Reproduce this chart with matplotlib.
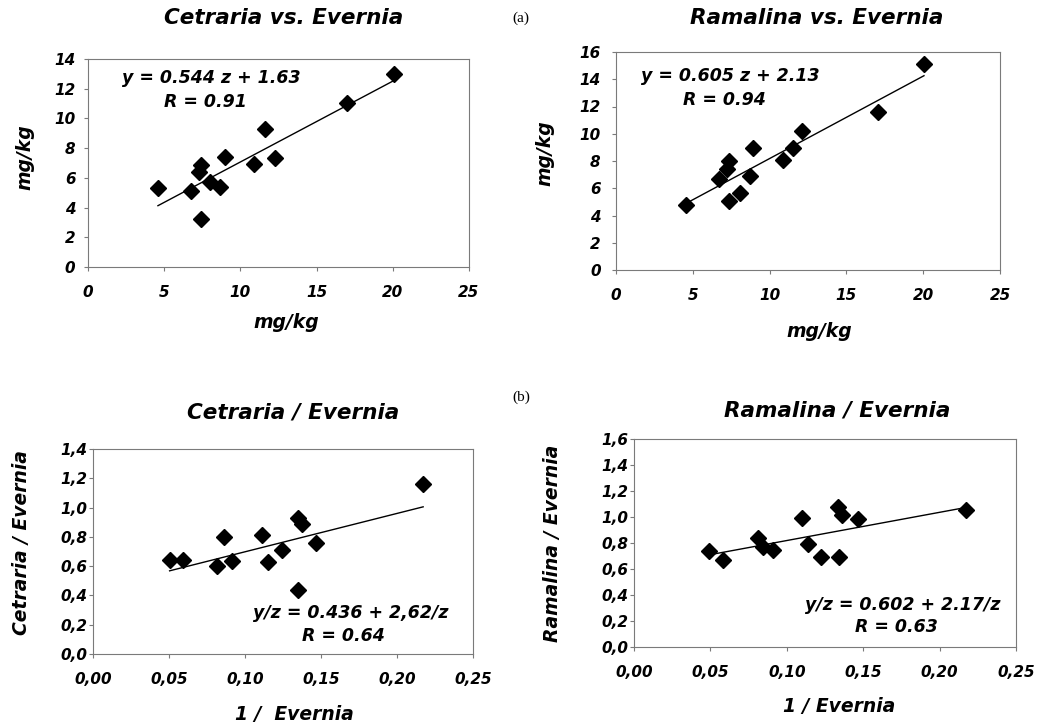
"""
Task:
    Redraw the four lichen scatter panels: Cetraria and Ramalina against Evernia
    (a) as raw concentrations and (b) as ratios against 1/Evernia.

Outputs:
    out.png
"""

import numpy as np
import matplotlib.pyplot as plt
from matplotlib.ticker import FixedLocator, FuncFormatter


FIG_W, FIG_H, DPI = 1050, 727, 100
FONT = "DejaVu Sans"
SPINE_COLOR = "#7a7a7a"

# <>#<>#<>#<>#<>#<>#<>#<>#<>#<>#<>#<>#<>#<>#<>#<>#<>#<>#<>#<>#<>#<>#<>#<>#<>#<>
# <> Data
# <>#<>#<>#<>#<>#<>#<>#<>#<>#<>#<>#<>#<>#<>#<>#<>#<>#<>#<>#<>#<>#<>#<>#<>#<>#<>

# (a) left: Cetraria vs. Evernia, mg/kg
cetraria_x = [4.59, 6.74, 7.28, 7.39, 7.44, 8.03, 8.68, 8.97, 10.87, 11.59, 12.27, 17.00, 20.06]
cetraria_y = [5.32, 5.14, 6.39, 6.84, 3.23, 5.70, 5.38, 7.38, 6.91, 9.29, 7.36, 11.04, 13.01]
cetraria_fit = (0.544, 1.63)  # slope, intercept

# (a) right: Ramalina vs. Evernia, mg/kg
ramalina_x = [4.58, 6.73, 7.20, 7.33, 7.33, 8.09, 8.70, 8.92, 10.85, 11.52, 12.11, 17.04, 20.05]
ramalina_y = [4.80, 6.69, 7.42, 8.01, 5.10, 5.64, 6.93, 8.92, 8.06, 8.97, 10.22, 11.61, 15.14]
ramalina_fit = (0.605, 2.13)

# (b) left: Cetraria/Evernia vs. 1/Evernia
cetraria_ratio_x = [0.0504, 0.0591, 0.0814, 0.0860, 0.0913, 0.1112, 0.1151, 0.1241,
                    0.1346, 0.1373, 0.1351, 0.1465, 0.2172]
cetraria_ratio_y = [0.640, 0.640, 0.603, 0.801, 0.635, 0.815, 0.628, 0.710,
                    0.929, 0.888, 0.439, 0.756, 1.159]
cetraria_ratio_fit = (2.62, 0.436)

# (b) right: Ramalina/Evernia vs. 1/Evernia
ramalina_ratio_x = [0.0493, 0.0580, 0.0809, 0.0844, 0.0910, 0.1097, 0.1141, 0.1226,
                    0.1337, 0.1363, 0.1339, 0.1468, 0.2173]
ramalina_ratio_y = [0.742, 0.668, 0.835, 0.768, 0.745, 0.993, 0.791, 0.691,
                    1.080, 1.014, 0.694, 0.983, 1.052]
ramalina_ratio_fit = (2.17, 0.602)

ticks_mgkg_x = [0, 5, 10, 15, 20, 25]
ticks_cetraria_y = [0, 2, 4, 6, 8, 10, 12, 14]
ticks_ramalina_y = [0, 2, 4, 6, 8, 10, 12, 14, 16]
ticks_inverse_x = [0.00, 0.05, 0.10, 0.15, 0.20, 0.25]
ticks_cetraria_ratio_y = [0.0, 0.2, 0.4, 0.6, 0.8, 1.0, 1.2, 1.4]
ticks_ramalina_ratio_y = [0.0, 0.2, 0.4, 0.6, 0.8, 1.0, 1.2, 1.4, 1.6]


def fx(px):
    return px / FIG_W


def fy(py):
    return 1 - py / FIG_H


def add_axes(left, top, right, bottom):
    """Axes box given in reference pixels."""
    return fig.add_axes([fx(left), fy(bottom), fx(right - left), (bottom - top) / FIG_H])


def label(x, y, text, size, rotation=0, **kwargs):
    fig.text(fx(x), fy(y), text, ha="center", va="center", rotation=rotation,
             fontsize=size, fontweight="bold", fontstyle="italic", family=FONT, **kwargs)


def draw_panel(axis, x, y, fit, xticks, yticks, decimals_x, decimals_y, comma, ypad):
    axis.plot(x, y, linestyle="none", marker="D", markersize=8,
              color="black", zorder=3, clip_on=False)
    slope, intercept = fit
    line_x = np.array([min(x), max(x)])
    axis.plot(line_x, slope * line_x + intercept, color="black", linewidth=1.0)

    axis.set_xlim(xticks[0], xticks[-1])
    axis.set_ylim(yticks[0], yticks[-1])
    axis.xaxis.set_major_locator(FixedLocator(xticks))
    axis.yaxis.set_major_locator(FixedLocator(yticks))

    def formatter(decimals):
        def fmt(value, _pos):
            text = f"{value:.{decimals}f}"
            return text.replace(".", ",") if comma else text
        return FuncFormatter(fmt)

    axis.xaxis.set_major_formatter(formatter(decimals_x))
    axis.yaxis.set_major_formatter(formatter(decimals_y))

    for spine in axis.spines.values():
        spine.set_color(SPINE_COLOR)
        spine.set_linewidth(0.8)
    axis.tick_params(axis="x", direction="out", length=3, width=0.8, color=SPINE_COLOR, pad=10)
    axis.tick_params(axis="y", direction="out", length=3, width=0.8, color=SPINE_COLOR, pad=ypad)
    for tick in axis.get_xticklabels() + axis.get_yticklabels():
        tick.set_fontfamily(FONT)
        tick.set_fontweight("bold")
        tick.set_fontstyle("italic")
        tick.set_fontsize(11)


# <>#<>#<>#<>#<>#<>#<>#<>#<>#<>#<>#<>#<>#<>#<>#<>#<>#<>#<>#<>#<>#<>#<>#<>#<>#<>
# <> Figure
# <>#<>#<>#<>#<>#<>#<>#<>#<>#<>#<>#<>#<>#<>#<>#<>#<>#<>#<>#<>#<>#<>#<>#<>#<>#<>

fig = plt.figure(figsize=(FIG_W / DPI, FIG_H / DPI), dpi=DPI)
fig.patch.set_facecolor("white")

ax1 = add_axes(88, 59, 469, 267)
draw_panel(ax1, cetraria_x, cetraria_y, cetraria_fit, ticks_mgkg_x, ticks_cetraria_y,
           0, 0, False, 6)
ax2 = add_axes(616, 52, 1000, 270)
draw_panel(ax2, ramalina_x, ramalina_y, ramalina_fit, ticks_mgkg_x, ticks_ramalina_y,
           0, 0, False, 8)
ax3 = add_axes(93, 449, 473, 654)
draw_panel(ax3, cetraria_ratio_x, cetraria_ratio_y, cetraria_ratio_fit, ticks_inverse_x,
           ticks_cetraria_ratio_y, 2, 1, True, 1)
ax4 = add_axes(634, 439, 1016, 647)
draw_panel(ax4, ramalina_ratio_x, ramalina_ratio_y, ramalina_ratio_fit, ticks_inverse_x,
           ticks_ramalina_ratio_y, 2, 1, True, 1)

# titles
label(284, 18, "Cetraria vs. Evernia", 15.5)
label(817, 18, "Ramalina vs. Evernia", 15.5)
label(293, 412, "Cetraria / Evernia", 15.5)
label(837, 410, "Ramalina / Evernia", 15.5)

# axis labels
label(286, 322, "mg/kg", 13.5)
label(25, 157, "mg/kg", 13.5, rotation=90)
label(819, 332, "mg/kg", 13.5)
label(545, 153, "mg/kg", 13.5, rotation=90)
label(294, 714, "1 /  Evernia", 13.5)
label(22, 543, "Cetraria / Evernia", 13.5, rotation=90)
label(839, 707, "1 / Evernia", 13.5)
label(553, 543, "Ramalina / Evernia", 13.5, rotation=90)

# fit annotations
label(211, 78, "y = 0.544 z + 1.63", 12.5)
label(205, 102, "R = 0.91", 12.5)
label(730, 76, "y = 0.605 z + 2.13", 12.5)
label(724, 100, "R = 0.94", 12.5)
label(351, 613, "y/z = 0.436 + 2,62/z", 12.5)
label(343, 636, "R = 0.64", 12.5)
label(903, 605, "y/z = 0.602 + 2.17/z", 12.5)
label(896, 627, "R = 0.63", 12.5)

# panel markers
fig.text(fx(521), fy(18), "(a)", ha="center", va="center", fontsize=11, family="Liberation Serif")
fig.text(fx(521), fy(397), "(b)", ha="center", va="center", fontsize=11, family="Liberation Serif")

fig.savefig("out.png", dpi=DPI, facecolor="white")
